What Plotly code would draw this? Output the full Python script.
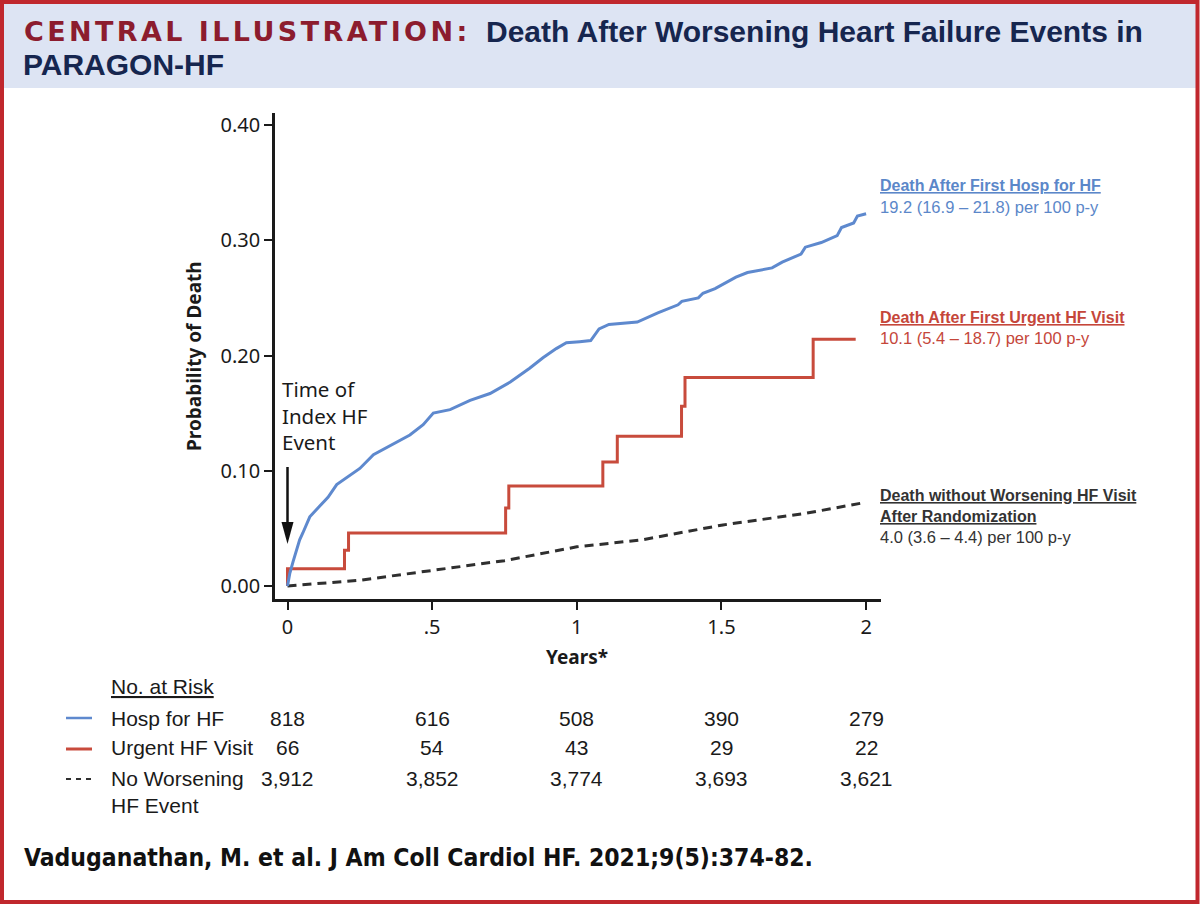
import plotly.graph_objects as go

# ---------------- data ----------------
hosp_t = [0, 0.008, 0.019, 0.042, 0.053, 0.077, 0.11, 0.14, 0.17, 0.216, 0.25, 0.297, 0.354,
          0.423, 0.469, 0.504, 0.562, 0.631, 0.70, 0.77, 0.837, 0.883, 0.929, 0.964, 1.01,
          1.048, 1.077, 1.111, 1.209, 1.28, 1.35, 1.363, 1.42, 1.436, 1.478, 1.55, 1.59,
          1.675, 1.71, 1.775, 1.79, 1.845, 1.90, 1.915, 1.957, 1.97, 2.0]
hosp_p = [0, 0.011, 0.021, 0.040, 0.046, 0.060, 0.069, 0.077, 0.088, 0.096, 0.102, 0.114, 0.122,
          0.131, 0.140, 0.150, 0.153, 0.161, 0.167, 0.177, 0.189, 0.198, 0.206, 0.211, 0.212,
          0.213, 0.223, 0.227, 0.229, 0.237, 0.244, 0.247, 0.250, 0.254, 0.258, 0.268, 0.272,
          0.276, 0.281, 0.288, 0.294, 0.298, 0.304, 0.311, 0.315, 0.321, 0.323]

urgent_t = [0, 0, 0.197, 0.211, 0.754, 0.765, 1.09, 1.14, 1.362, 1.374, 1.817, 1.964]
urgent_p = [0, 0.015, 0.031, 0.046, 0.0676, 0.0867, 0.1075, 0.130, 0.156, 0.181, 0.214, 0.214]

none_t = [0, 0.25, 0.5, 0.75, 1.0, 1.08, 1.224, 1.505, 1.79, 1.986]
none_p = [0, 0.005, 0.0135, 0.022, 0.034, 0.036, 0.040, 0.053, 0.063, 0.072]

x_ticks = [0, 0.5, 1, 1.5, 2]
x_ticktext = ["0", ".5", "1", "1.5", "2"]
y_ticks = [0, 0.1, 0.2, 0.3, 0.4]
y_ticktext = ["0.00", "0.10", "0.20", "0.30", "0.40"]

risk_times = [0, 0.5, 1, 1.5, 2]
risk_groups = ["Hosp for HF", "Urgent HF Visit", "No Worsening<br>HF Event"]
risk_hosp = ["818", "616", "508", "390", "279"]
risk_urgent = ["66", "54", "43", "29", "22"]
risk_none = ["3,912", "3,852", "3,774", "3,693", "3,621"]

# ---------------- styling ----------------
BLUE = "#5e89ce"
RED = "#c84b3c"
DARK = "#2f2f2f"
BLUE_TXT = "#5b87c9"
RED_TXT = "#c5463a"
DARK_TXT = "#333333"
NAVY = "#16264f"
MAROON = "#8c1c2e"
BORDER = "#c0272d"
BAND = "#dde4f3"

W, H = 1200, 904
L, R, T, B = 275, 881, 113, 599


def px(x):
    return (x - L) / (R - L)


def py(y):
    return (B - y) / (B - T)


SANS = "Liberation Sans, Arial, sans-serif"
NARROW = "Liberation Sans Narrow, Arial Narrow, DejaVu Sans Condensed, sans-serif"
TICKF = "Noto Sans, Open Sans, sans-serif"

fig = go.Figure()
fig.add_trace(go.Scatter(x=none_t, y=none_p, mode="lines",
                         line=dict(color=DARK, width=3, dash="9px,6px"), hoverinfo="skip"))
fig.add_trace(go.Scatter(x=urgent_t, y=urgent_p, mode="lines", line_shape="hv",
                         line=dict(color=RED, width=3), hoverinfo="skip"))
fig.add_trace(go.Scatter(x=hosp_t, y=hosp_p, mode="lines",
                         line=dict(color=BLUE, width=3), hoverinfo="skip"))

x0 = (L - 287.5) / 289.3
x1 = (R - 287.5) / 289.3
y0 = (586 - B) / 1152.5
y1 = (586 - T) / 1152.5

fig.update_layout(
    width=W, height=H, autosize=False,
    margin=dict(l=L, r=W - R, t=T, b=H - B),
    paper_bgcolor="white", plot_bgcolor="white",
    showlegend=False,
    xaxis=dict(range=[x0, x1], tickvals=x_ticks, ticktext=x_ticktext,
               showgrid=False, zeroline=False, showline=True, linecolor="#1a1a1a",
               linewidth=2.5, ticks="outside", ticklen=8, tickwidth=2, tickcolor="#1a1a1a",
               tickfont=dict(family=TICKF, size=20, color="#1a1a1a")),
    yaxis=dict(range=[y0, y1], tickvals=y_ticks, ticktext=y_ticktext,
               showgrid=False, zeroline=False, showline=True, linecolor="#1a1a1a",
               linewidth=2.5, ticks="outside", ticklen=8, tickwidth=2, tickcolor="#1a1a1a",
               tickfont=dict(family=TICKF, size=20, color="#1a1a1a")),
)

shapes = []
# header band and border
shapes.append(dict(type="rect", xref="paper", yref="paper", x0=px(3), x1=px(1196),
                   y0=py(88), y1=py(3), fillcolor=BAND, line=dict(width=0), layer="below"))
shapes.append(dict(type="rect", xref="paper", yref="paper", x0=px(2), x1=px(1197.5),
                   y0=py(902), y1=py(2), line=dict(color=BORDER, width=4)))
# arrow
shapes.append(dict(type="line", xref="paper", yref="paper", x0=px(287.5), x1=px(287.5),
                   y0=py(467), y1=py(525), line=dict(color="#111111", width=2.5)))
shapes.append(dict(type="path", xref="paper", yref="paper",
                   path=f"M {px(281.5)},{py(522)} L {px(293.5)},{py(522)} L {px(287.5)},{py(544)} Z",
                   fillcolor="#111111", line=dict(width=0)))
# risk table legend samples
shapes.append(dict(type="line", xref="paper", yref="paper", x0=px(66), x1=px(92),
                   y0=py(718), y1=py(718), line=dict(color=BLUE, width=2.5)))
shapes.append(dict(type="line", xref="paper", yref="paper", x0=px(66), x1=px(92),
                   y0=py(749), y1=py(749), line=dict(color=RED, width=3)))
shapes.append(dict(type="line", xref="paper", yref="paper", x0=px(66), x1=px(93),
                   y0=py(779), y1=py(779), line=dict(color=DARK, width=2, dash="5px,5px")))
fig.update_layout(shapes=shapes)

ann = []


def text(x, y, s, size, color, family=SANS, xanchor="left", xref="paper", weight=None,
         angle=0, yanchor="middle"):
    f = dict(family=family, size=size, color=color)
    if weight:
        f["weight"] = weight
    ann.append(dict(x=x, y=y, xref=xref, yref="paper", text=s, showarrow=False,
                    xanchor=xanchor, yanchor=yanchor, font=f, textangle=angle, align="left"))


# title
text(px(22), py(31), '<span style="letter-spacing:3.4px">CENTRAL ILLUSTRATION:</span>', 27,
     MAROON, family="DejaVu Sans, sans-serif", weight="bold")
text(px(484), py(31), "Death After Worsening Heart Failure Events in", 30, NAVY, weight="bold")
text(px(21), py(64), "PARAGON-HF", 30, NAVY, weight="bold")

# axis titles
text(px(194), py(356), "Probability of Death", 19, "#1a1a1a", family=TICKF, weight="bold",
     xanchor="center", angle=-90)
text(1, py(657), "Years*", 19, "#1a1a1a", family=TICKF, weight="bold", xanchor="center",
     xref="x")

# time of index event
text(px(280), py(415), "Time of<br>Index HF<br>Event", 20.5, "#1a1a1a", family=TICKF)

# right labels
text(px(878), py(185), "<u>Death After First Hosp for HF</u>", 16, BLUE_TXT, weight="bold")
text(px(878), py(207), "19.2 (16.9 – 21.8) per 100 p-y", 16.5, BLUE_TXT)
text(px(878), py(317), "<u>Death After First Urgent HF Visit</u>", 16, RED_TXT, weight="bold")
text(px(878), py(338), "10.1 (5.4 – 18.7) per 100 p-y", 16.5, RED_TXT)
text(px(878), py(495.5), "<u>Death without Worsening HF Visit</u>", 16, DARK_TXT, weight="bold")
text(px(878), py(516.5), "<u>After Randomization</u>", 16, DARK_TXT, weight="bold")
text(px(878), py(537), "4.0 (3.6 – 4.4) per 100 p-y", 16.5, DARK_TXT)

# risk table
text(px(109), py(686), "<u>No. at Risk</u>", 21, "#1a1a1a")
row_y = [718, 748, 779]
text(px(109), py(718), risk_groups[0], 21, "#1a1a1a")
text(px(109), py(748), risk_groups[1], 21, "#1a1a1a")
text(px(109), py(792), risk_groups[2], 21, "#1a1a1a")
for vals, yy in zip([risk_hosp, risk_urgent, risk_none], row_y):
    for t, v in zip(risk_times, vals):
        text(t, py(yy), v, 21, "#1a1a1a", xanchor="center", xref="x")

# citation
text(px(22), py(858), "Vaduganathan, M. et al. J Am Coll Cardiol HF. 2021;9(5):374-82.", 24.5,
     "#111111", family=NARROW, weight="bold")

fig.update_layout(annotations=ann)
fig.write_html("out.html")
